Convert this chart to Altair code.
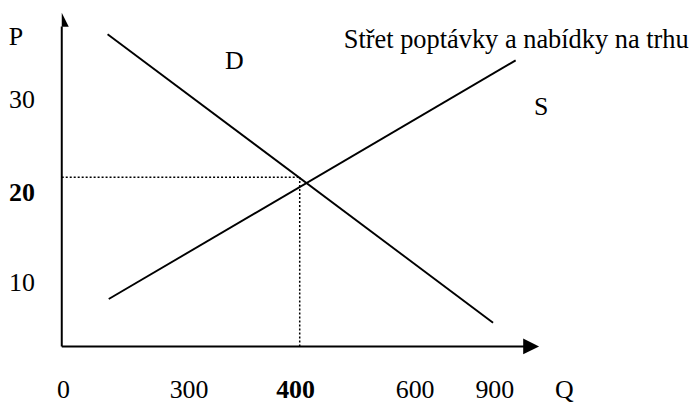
import altair as alt
import pandas as pd

# ---- data (sketch units: Q on x, P on y) ----
Q_MAX = 800          # x-domain of the sketch
P_MAX = 39.3         # y-domain of the sketch

# demand and supply curves (end points)
curve_names = ["D", "D", "S", "S"]
curve_q = [77, 725, 79, 763]
curve_p = [36.9, 2.8, 5.6, 33.8]

# equilibrium
eq_q = 400
eq_p = 20

# tick labels and where they sit
p_tick_labels = ["P", "30", "20", "10"]
p_tick_q = [-77, -67, -67, -67]
p_tick_p = [35.6, 28.2, 17.2, 6.6]
p_tick_bold = [0, 0, 1, 0]

q_tick_labels = ["0", "300", "400", "600", "900", "Q"]
q_tick_q = [3, 214, 393, 594, 728, 845]
q_tick_p = [-6.1, -6.1, -6.1, -6.1, -6.1, -6.1]
q_tick_bold = [0, 0, 1, 0, 0, 0]

# curve labels and caption
note_texts = ["D", "S"]
note_q = [290, 806]
note_p = [32.8, 27.3]
caption = "Střet poptávky a nabídky na trhu"
caption_q = 474
caption_p = 35.3

FONT = "Liberation Serif"

xs = alt.Scale(domain=[0, Q_MAX], nice=False, zero=False)
ys = alt.Scale(domain=[0, P_MAX], nice=False, zero=False)


def X(f):
    return alt.X(f, scale=xs, axis=None)


def Y(f):
    return alt.Y(f, scale=ys, axis=None)


curves = pd.DataFrame({"curve": curve_names, "Q": curve_q, "P": curve_p})
lines = alt.Chart(curves).mark_line(color="black", strokeWidth=1.9).encode(
    x=X("Q:Q"), y=Y("P:Q"), detail="curve:N",
)

guides = pd.DataFrame({
    "x": [0, eq_q], "x2": [eq_q, eq_q],
    "y": [eq_p, 0], "y2": [eq_p, eq_p],
})
dotted = alt.Chart(guides).mark_rule(color="black", strokeWidth=1.5, strokeDash=[2, 2]).encode(
    x=X("x:Q"), x2="x2:Q", y=Y("y:Q"), y2="y2:Q",
)

axes_df = pd.DataFrame({
    "x": [0, 0], "x2": [Q_MAX - 15, 0],
    "y": [0, 0], "y2": [0, P_MAX - 1.5],
})
axes = alt.Chart(axes_df).mark_rule(color="black", strokeWidth=2).encode(
    x=X("x:Q"), x2="x2:Q", y=Y("y:Q"), y2="y2:Q",
)

arrow_x = alt.Chart(pd.DataFrame({"Q": [Q_MAX - 11], "P": [0]})).mark_point(
    shape="M -1 -1 L 1 0 L -1 1 Z", size=256, filled=True, color="black", opacity=1
).encode(x=X("Q:Q"), y=Y("P:Q"))

arrow_y = alt.Chart(pd.DataFrame({"Q": [0], "P": [P_MAX - 0.7]})).mark_point(
    shape="M 0 -1 L 1 1 L 0 1 Z", size=196, filled=True, color="black", opacity=1
).encode(x=X("Q:Q"), y=Y("P:Q"))

labels = pd.DataFrame({
    "t": p_tick_labels + q_tick_labels,
    "Q": p_tick_q + q_tick_q,
    "P": p_tick_p + q_tick_p,
    "bold": p_tick_bold + q_tick_bold,
})
base_txt = alt.Chart(labels).encode(x=X("Q:Q"), y=Y("P:Q"), text="t:N")
txt_norm = base_txt.transform_filter("datum.bold == 0").mark_text(
    font=FONT, fontSize=26, align="center", baseline="alphabetic", color="black"
)
txt_bold = base_txt.transform_filter("datum.bold == 1").mark_text(
    font=FONT, fontSize=26, fontWeight="bold", align="center", baseline="alphabetic", color="black"
)

notes = alt.Chart(pd.DataFrame({"t": note_texts, "Q": note_q, "P": note_p})).mark_text(
    font=FONT, fontSize=26, align="center", baseline="alphabetic", color="black"
).encode(x=X("Q:Q"), y=Y("P:Q"), text="t:N")

cap = alt.Chart(pd.DataFrame({"t": [caption], "Q": [caption_q], "P": [caption_p]})).mark_text(
    font=FONT, fontSize=26.5, align="left", baseline="alphabetic", color="black"
).encode(x=X("Q:Q"), y=Y("P:Q"), text="t:N")

chart = alt.layer(dotted, lines, axes, arrow_x, arrow_y, txt_norm, txt_bold, notes, cap).properties(
    width=478, height=334,
    autosize=alt.AutoSizeParams(type="none"),
    padding={"left": 54, "top": 5, "right": 152, "bottom": 60},
    background="white",
).configure_view(stroke=None)

chart.save("out.html", embed_options={"renderer": "svg", "actions": False})
